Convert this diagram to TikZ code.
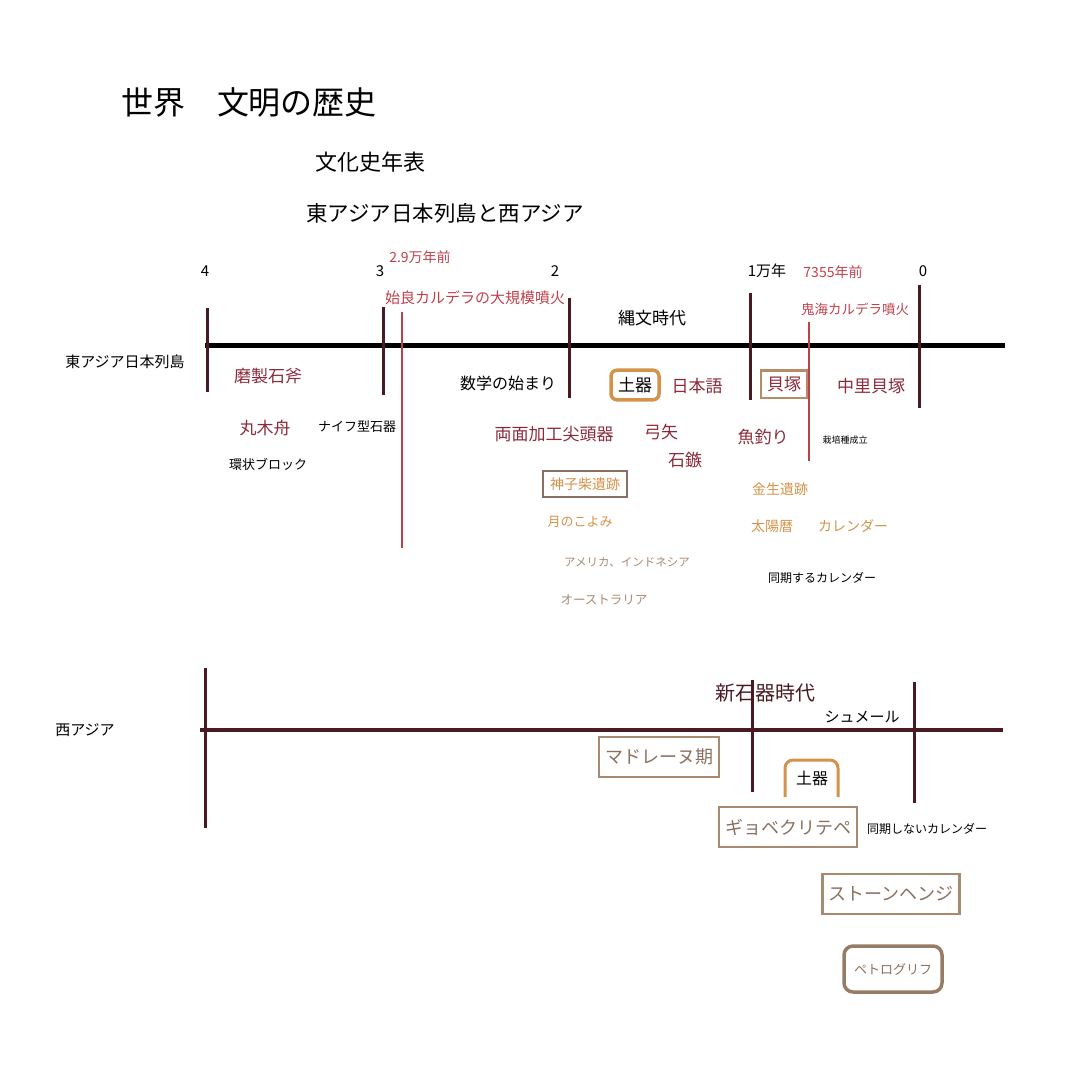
\documentclass[tikz,border=0pt]{standalone}
\usepackage{fontspec}
\setmainfont{Noto Sans CJK JP}
\definecolor{mar}{HTML}{4A1A22}
\definecolor{redl}{HTML}{C0404A}
\definecolor{mt}{HTML}{8A2A3A}
\definecolor{org}{HTML}{D4924A}
\definecolor{tan}{HTML}{A88A70}
\definecolor{tant}{HTML}{8A7060}
\tikzset{
  t/.style={inner sep=0pt,font=\fontsize{#1}{#1}\selectfont},
  tick/.style={mar,line width=3pt},
  redline/.style={redl,line width=2.5pt},
  tbox/.style={draw=tan,line width=2.5pt,inner xsep=6pt,minimum height=40pt,text=tant},
}
\begin{document}
\begin{tikzpicture}[x=1pt,y=-1pt]
\useasboundingbox (0,0) rectangle (1069,1069);
\node[t=32] (title) at (249,102) {世界　文明の歴史};
\node[t=22] (sub1) at (370,162) {文化史年表};
\node[t=21.5] (sub2) at (445,213) {東アジア日本列島と西アジア};
\node[t=15] (n4) at (205,271) {4};
\node[t=15] (n3) at (380,271) {3};
\node[t=15] (n2) at (555,271) {2};
\node[t=15] (n1) at (767,271) {1万年};
\node[t=15] (n0) at (923,271) {0};
\node[t=14,text=redl] (a29) at (420,257) {2.9万年前};
\node[t=15,text=redl] (aira) at (475,298) {始良カルデラの大規模噴火};
\node[t=14,text=redl] (k7355) at (833,272) {7355年前};
\node[t=13.5,text=redl] (kikai) at (855,309) {鬼海カルデラ噴火};
% east line
\coordinate (eA) at (205,345); \coordinate (eB) at (1005,345);
\draw[line width=5pt] (eA) -- (eB);
\coordinate (t1a) at (207,308); \coordinate (t1b) at (207,392);
\coordinate (t2a) at (383,307); \coordinate (t2b) at (383,395);
\coordinate (t3a) at (569,298); \coordinate (t3b) at (569,398);
\coordinate (t4a) at (750,293); \coordinate (t4b) at (750,400);
\coordinate (t5a) at (919,285); \coordinate (t5b) at (919,408);
\foreach \i in {1,...,5}{\draw[tick] (t\i a) -- (t\i b);}
\coordinate (r1a) at (402,312); \coordinate (r1b) at (402,548);
\coordinate (r2a) at (809,322); \coordinate (r2b) at (809,461);
\draw[redline] (r1a) -- (r1b);
\draw[redline] (r2a) -- (r2b);
\node[t=17] (jomon) at (652,318) {縄文時代};
\node[t=15] (ea) at (125,362) {東アジア日本列島};
\node[t=17,text=mt] (masei) at (268,376) {磨製石斧};
\node[t=17,text=mt] (maru) at (265,428) {丸木舟};
\node[t=13] (kanjo) at (268,464) {環状ブロック};
\node[t=13] (naifu) at (357,427) {ナイフ型石器};
\node[t=16] (sugaku) at (508,383) {数学の始まり};
\node[t=17,draw=org,line width=3.5pt,rounded corners=6pt,inner sep=7pt] (doki1) at (635,385) {土器};
\node[t=17,text=mt] (nihongo) at (697,386) {日本語};
\node[t=17,draw=tan!70!org,line width=2.5pt,inner sep=6pt,text=mt] (kaizuka) at (784,384) {貝塚};
\node[t=17,text=mt] (naka) at (871,386) {中里貝塚};
\node[t=17,text=mt] (ryomen) at (554,434) {両面加工尖頭器};
\node[t=17,text=mt] (yumi) at (661,432) {弓矢};
\node[t=17,text=mt] (seki) at (685,460) {石鏃};
\node[t=17,text=mt] (uo) at (763,437) {魚釣り};
\node[t=9] (saibai) at (845,440) {栽培種成立};
\node[t=14,draw=tant,line width=2pt,inner sep=7pt,text=org] (miko) at (585,484) {神子柴遺跡};
\node[t=13,text=org] (tsuki) at (580,522) {月のこよみ};
\node[t=14,text=org] (kinsei) at (780,489) {金生遺跡};
\node[t=14,text=org] (taiyo) at (772,526) {太陽暦};
\node[t=14,text=org] (cal) at (853,526) {カレンダー};
\node[t=11.5,text=tan] (amer) at (627,562) {アメリカ、インドネシア};
\node[t=12.5,text=tan] (aus) at (604,600) {オーストラリア};
\node[t=12] (doki) at (822,578) {同期するカレンダー};
% west
\node[t=15] (wa) at (85,730) {西アジア};
\coordinate (wA) at (200,730); \coordinate (wB) at (1003,730);
\draw[mar,line width=4pt] (wA) -- (wB);
\coordinate (w1a) at (205,668); \coordinate (w1b) at (205,828);
\coordinate (w2a) at (752,680); \coordinate (w2b) at (752,792);
\coordinate (w3a) at (914,682); \coordinate (w3b) at (914,803);
\foreach \i in {1,2,3}{\draw[tick] (w\i a) -- (w\i b);}
\node[t=20,text=mar] (shin) at (765,693) {新石器時代};
\node[t=15] (sume) at (862,717) {シュメール};
\node[t=18,tbox] (mad) at (659,757) {マドレーヌ期};
\node[t=16] (doki2) at (812,778) {土器};
\coordinate (da) at (785,797); \coordinate (db) at (785,760);
\coordinate (dc) at (838,760); \coordinate (dd) at (838,797);
\draw[org,line width=3pt,rounded corners=8pt] (da) -- (db) -- (dc) -- (dd);
\node[t=18,tbox] (gyo) at (788,827) {ギョベクリテペ};
\node[t=12] (dokish) at (927,829) {同期しないカレンダー};
\node[t=18,tbox] (stone) at (891,894) {ストーンヘンジ};
\node[t=13,draw=tan!90!black,line width=3.5pt,rounded corners=9pt,inner xsep=10pt,minimum height=46pt,text=tant] (petro) at (893,969) {ペトログリフ};
\end{tikzpicture}
\end{document}
